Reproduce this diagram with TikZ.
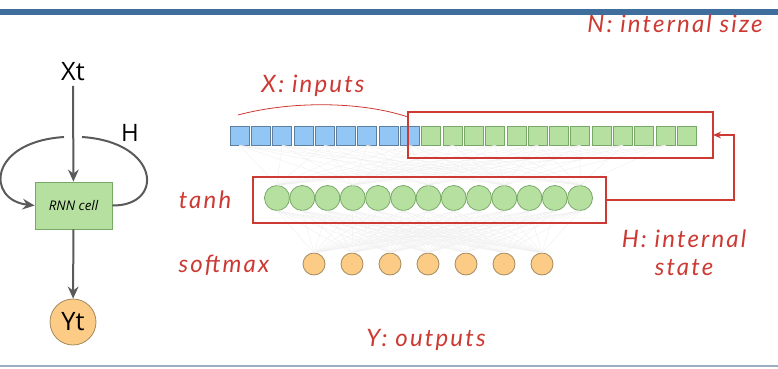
\documentclass[tikz,border=0pt]{standalone}
\usepackage{fontspec}
\setmainfont{Open Sans}
\newfontfamily\handfont{Lato}[LetterSpace=9]
\usetikzlibrary{positioning,arrows.meta}

\definecolor{barblue}{HTML}{406E9C}
\definecolor{rulegray}{HTML}{9AAFC6}
\definecolor{flowgray}{HTML}{5A5A5A}
\definecolor{inblue}{HTML}{92C6F4}
\definecolor{inbluedark}{HTML}{5E7F9E}
\definecolor{cellgreen}{HTML}{B6E0A0}
\definecolor{cellgreendark}{HTML}{78A866}
\definecolor{outorange}{HTML}{FCCB86}
\definecolor{outorangedark}{HTML}{A48A5C}
\definecolor{inkred}{HTML}{CC3A33}

\tikzset{
  flow/.style={draw=flowgray, line width=1.5pt, -{Stealth[length=9pt,width=8pt,inset=3pt]}},
  flowline/.style={draw=flowgray, line width=1.5pt},
  cellbox/.style={draw=cellgreendark, fill=cellgreen, line width=0.6pt,
    minimum width=57.75pt, minimum height=35.25pt, inner sep=0pt,
    font=\fontsize{10}{11}\selectfont\itshape},
  outball/.style={circle, draw=outorangedark, fill=outorange, line width=0.6pt,
    minimum size=34.5pt, inner sep=0pt, font=\fontsize{19}{20}\selectfont},
  insq/.style={draw=inbluedark, fill=inblue, line width=0.5pt, minimum size=14.25pt, inner sep=0pt},
  statesq/.style={draw=cellgreendark, fill=cellgreen, line width=0.5pt, minimum size=14.25pt, inner sep=0pt},
  hball/.style={circle, draw=cellgreendark, fill=cellgreen, line width=0.6pt, minimum size=18.75pt, inner sep=0pt},
  yball/.style={circle, draw=outorangedark, fill=outorange, line width=0.6pt, minimum size=16.5pt, inner sep=0pt},
  mesh/.style={draw=black!6, line width=0.3pt},
  redbox/.style={draw=inkred, line width=1.3pt, inner sep=0pt, outer sep=0pt},
  hand/.style={text=inkred, font=\fontsize{18}{21}\selectfont\handfont\itshape}
}

\begin{document}
\begin{tikzpicture}[x=0.75pt,y=0.75pt,yscale=-1,xscale=1]
        \useasboundingbox (0,0) rectangle (778,368);
        \fill[white] (0,0) rectangle (778,368);

        %Top bar and bottom rule
        \fill[barblue] (0,9) rectangle (778,14.5);
        \draw[rulegray, line width=1.2pt] (0,366) -- (778,366);

        % ---- folded RNN cell ----
        \node[font=\fontsize{19}{20}\selectfont] (xt) at (73,72) {Xt};
        \node[cellbox] (cell) at (73.5,205.5) {RNN cell};
        \node[outball] (yt) at (73,322) {Yt};
        \node[font=\fontsize{18}{20}\selectfont] (hlab) at (130,133) {H};
        \coordinate (hl) at (64,137);
        \coordinate (hr) at (82,137);

        \draw[flow] (xt) -- (cell);
        \draw[flow] (cell) -- (yt);
        %Curve Lines: state loop
        \draw[flowline] (hr) .. controls (160,142) and (165,206) .. (cell.east);
        \draw[flow] (hl) .. controls (-12,142) and (-14,200) .. (cell.west);

        % ---- unrolled layers ----
        %input squares
        \foreach \i in {0,...,8}
            \node[insq] (x\i) at ({239.5+21.3*\i},135.5) {};
        \foreach \i in {9,...,21}
            \node[statesq] (x\i) at ({239.5+21.3*\i},135.5) {};
        %tanh layer
        \foreach \j in {0,...,12}
            \node[hball] (h\j) at ({277+25.25*\j},198) {};
        %softmax layer
        \foreach \k in {0,...,6}
            \node[yball] (y\k) at ({314+38*\k},264) {};

        %faint weights
        \foreach \i in {0,2,...,20}
            \foreach \j in {0,3,...,12}
                \draw[mesh] (x\i.south) -- (h\j.north);
        \foreach \j in {0,...,12}
            \foreach \k in {0,...,6}
                \draw[mesh] (h\j.south) -- (y\k.north);

        %Shape: red boxes
        \node[redbox, minimum width=228.75pt, minimum height=34.5pt] (inbox) at (560.5,135) {};
        \node[redbox, minimum width=264.75pt, minimum height=34.5pt] (statebox) at (429.5,200) {};
        \draw[draw=inkred, line width=1.2pt, -{Stealth[length=6pt,width=5pt]}]
            (statebox.east) -- ++(128,0) |- (inbox.east);

        %Curve Lines: brace over the inputs
        \draw[inkred, line width=0.6pt] (238,115) .. controls (290,101) and (360,101) .. (408,117);

        % Text Node
        \node[hand] (ninfo) at (675,24) {N: internal size};
        \node[hand] (xinfo) at (313,86) {X: inputs};
        \node[hand] (tanhlab) at (205,200) {tanh};
        \node[hand] (smlab) at (224,265) {softmax};
        \node[hand, align=center] (hinfo) at (684,253) {H: internal\\ state};
        \node[hand] (yinfo) at (426,340) {Y: outputs};
\end{tikzpicture}
\end{document}
